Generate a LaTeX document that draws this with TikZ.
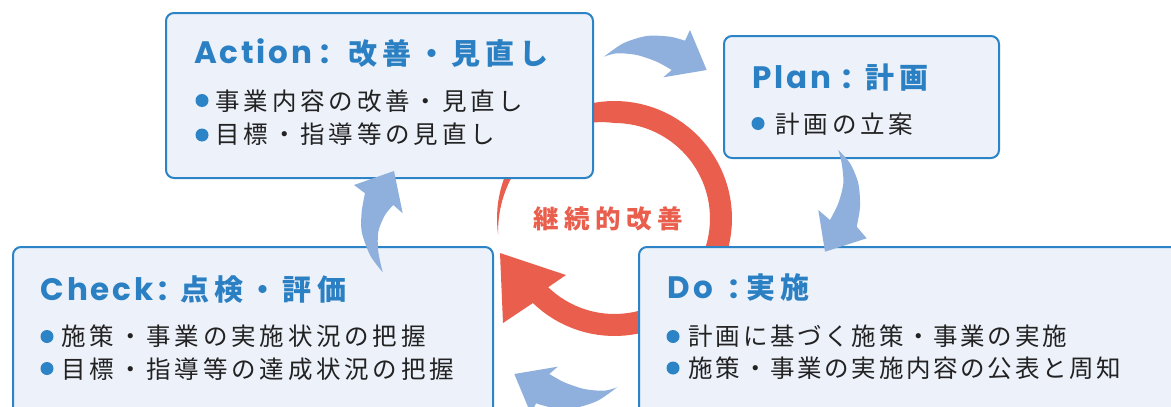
\documentclass[tikz,border=0pt]{standalone}
\usepackage{fontspec}
\newfontfamily\latinfont{Poppins}[LetterSpace=9]
\newfontfamily\colonfont{Poppins}
\newfontfamily\titlefont{Noto Sans CJK JP}[LetterSpace=18]
\newfontfamily\bodyfont{Noto Sans CJK JP}[LetterSpace=15.5]
\newfontfamily\bodyfontD{Noto Sans CJK JP}[LetterSpace=11]
\newfontfamily\redfont{Noto Sans CJK JP}[LetterSpace=22]
\definecolor{boxblue}{HTML}{2C84C6}
\definecolor{boxfill}{HTML}{EDF1FA}
\definecolor{titleblue}{HTML}{2A80C3}
\definecolor{ringred}{HTML}{E95E4C}
\definecolor{arrowblue}{HTML}{8FB0DD}
\definecolor{darktext}{HTML}{222222}
\tikzset{
  box/.style={draw=boxblue, line width=2pt, fill=boxfill, rounded corners=8pt, inner sep=0pt, anchor=north west},
  titlelatin/.style={anchor=base west, inner sep=0pt, text=titleblue, font=\latinfont\bfseries\fontsize{31}{33}\selectfont},
  titlecolon/.style={anchor=base, inner sep=0pt, text=titleblue, font=\colonfont\bfseries\fontsize{32}{34}\selectfont},
  titletext/.style={anchor=base west, inner sep=0pt, text=titleblue, font=\titlefont\bfseries\fontsize{29}{31}\selectfont},
  bodytext/.style={anchor=base west, inner sep=0pt, text=darktext, font=\bodyfont\fontsize{24.5}{26}\selectfont},
  bodytextD/.style={anchor=base west, inner sep=0pt, text=darktext, font=\bodyfontD\fontsize{24.5}{26}\selectfont},
  redtext/.style={anchor=base, inner sep=0pt, text=ringred, font=\redfont\bfseries\fontsize{25.5}{27}\selectfont},
  bullet/.style={circle, fill=boxblue, inner sep=0pt, minimum size=13pt},
  blockarrow/.style={fill=arrowblue}
}
\begin{document}
\begin{tikzpicture}[x=1pt,y=-1pt]
\useasboundingbox (0,0) rectangle (1171,407);
\clip (0,0) rectangle (1171,407);
\fill[white] (0,0) rectangle (1171,407);

% red continuous-improvement ring
\coordinate (C) at (614.5,218.5);
\fill[ringred]
  plot[domain=172:494,samples=100] ({614.5+117.5*cos(\x)},{218.5+117.5*sin(\x)})
  -- (503,323) -- (500,253) -- (566,275)
  -- plot[domain=494:270,samples=70] ({614.5+95.5*cos(\x)},{218.5+95.5*sin(\x)})
  -- plot[domain=270:172,samples=40] ({614.5+(117.5-22*(\x-172)/98)*cos(\x)},{218.5+(117.5-22*(\x-172)/98)*sin(\x)})
  -- cycle;
\node[redtext] (kaizen) at (608,228.5) {継続的改善};

% boxes
\node[box, minimum width=427pt, minimum height=165pt] (action) at (165,12) {};
\node[box, minimum width=275pt, minimum height=122pt] (plan) at (723,35) {};
\node[box, minimum width=480pt, minimum height=200pt] (check) at (12,246) {};
\node[box, minimum width=560pt, minimum height=200pt] (do) at (638,246) {};

% Action
\node[titlelatin] (actionL) at (194,63.5) {Action};
\node[titlecolon] (actionC) at (325,63.5) {:};
\node[titletext] (actionT) at (348.5,64) {改善・見直し};
\node[bullet] (actionB1) at (202,100.5) {};
\node[bodytext] (action1) at (215.5,110) {事業内容の改善・見直し};
\node[bullet] (actionB2) at (202,135) {};
\node[bodytext] (action2) at (215.5,143.5) {目標・指導等の見直し};

% Plan
\node[titlelatin] (planL) at (752,88) {Plan};
\node[titlecolon] (planC) at (847,88) {:};
\node[titletext] (planT) at (865,88.5) {計画};
\node[bullet] (planB1) at (758,123.5) {};
\node[bodytext] (plan1) at (775.5,133.5) {計画の立案};

% Check
\node[titlelatin] (checkL) at (40.5,300) {Check};
\node[titlecolon] (checkC) at (163,300) {:};
\node[titletext] (checkT) at (180,300.5) {点検・評価};
\node[bullet] (checkB1) at (47,336.5) {};
\node[bodytext] (check1) at (61.5,345) {施策・事業の実施状況の把握};
\node[bullet] (checkB2) at (47,368.5) {};
\node[bodytext] (check2) at (61.5,378) {目標・指導等の達成状況の把握};

% Do
\node[titlelatin] (doL) at (667,298) {D\kern4pt o};
\node[titlecolon] (doC) at (734,298) {:};
\node[titletext] (doT) at (746,298.5) {実施};
\node[bullet] (doB1) at (673,336.5) {};
\node[bodytextD] (do1) at (688.5,345) {計画に基づく施策・事業の実施};
\node[bullet] (doB2) at (673,368) {};
\node[bodytextD] (do2) at (688.5,377) {施策・事業の実施内容の公表と周知};

% blue block arrows
% Action -> Plan
\fill[blockarrow]
  plot[smooth] coordinates {(604,56.7) (623.3,43.3) (646.7,36) (670,36.7) (685,40.7)}
  -- (690,30) -- (706.7,70) -- (663.3,77.3) -- (671.7,70)
  -- plot[smooth] coordinates {(671.7,70) (656.7,61.7) (636.7,55) (616.7,53.3) (604,56.7)}
  -- cycle;
% Plan -> Do
\fill[blockarrow]
  plot[smooth] coordinates {(838.3,150) (850,163.3) (858.3,183.3) (860,206.7) (856.7,226.7)}
  -- (866.7,238.3) -- (825,251.7) -- (818.3,210) -- (830,220)
  -- plot[smooth] coordinates {(830,220) (838.3,203.3) (843.3,183.3) (841.7,163.3) (838.3,150)}
  -- cycle;
% Do -> Check
\fill[blockarrow]
  plot[smooth] coordinates {(617,387.3) (597.7,400.7) (574.3,408) (551,407.3) (536,403.3)}
  -- (531,414) -- (514.3,374) -- (557.7,366.7) -- (549.3,374)
  -- plot[smooth] coordinates {(549.3,374) (564.3,382.3) (584.3,389) (604.3,390.7) (617,387.3)}
  -- cycle;
% Check -> Action
\fill[blockarrow]
  plot[smooth] coordinates {(382.7,272.3) (370,255) (361.7,231.7) (361.7,211.7) (365,193.3)}
  -- (354,185) -- (394,171) -- (402.7,213.3) -- (393.3,205)
  -- plot[smooth] coordinates {(393.3,205) (385,215) (378.3,231.7) (378.3,251.7) (382.7,272.3)}
  -- cycle;
\end{tikzpicture}
\end{document}
